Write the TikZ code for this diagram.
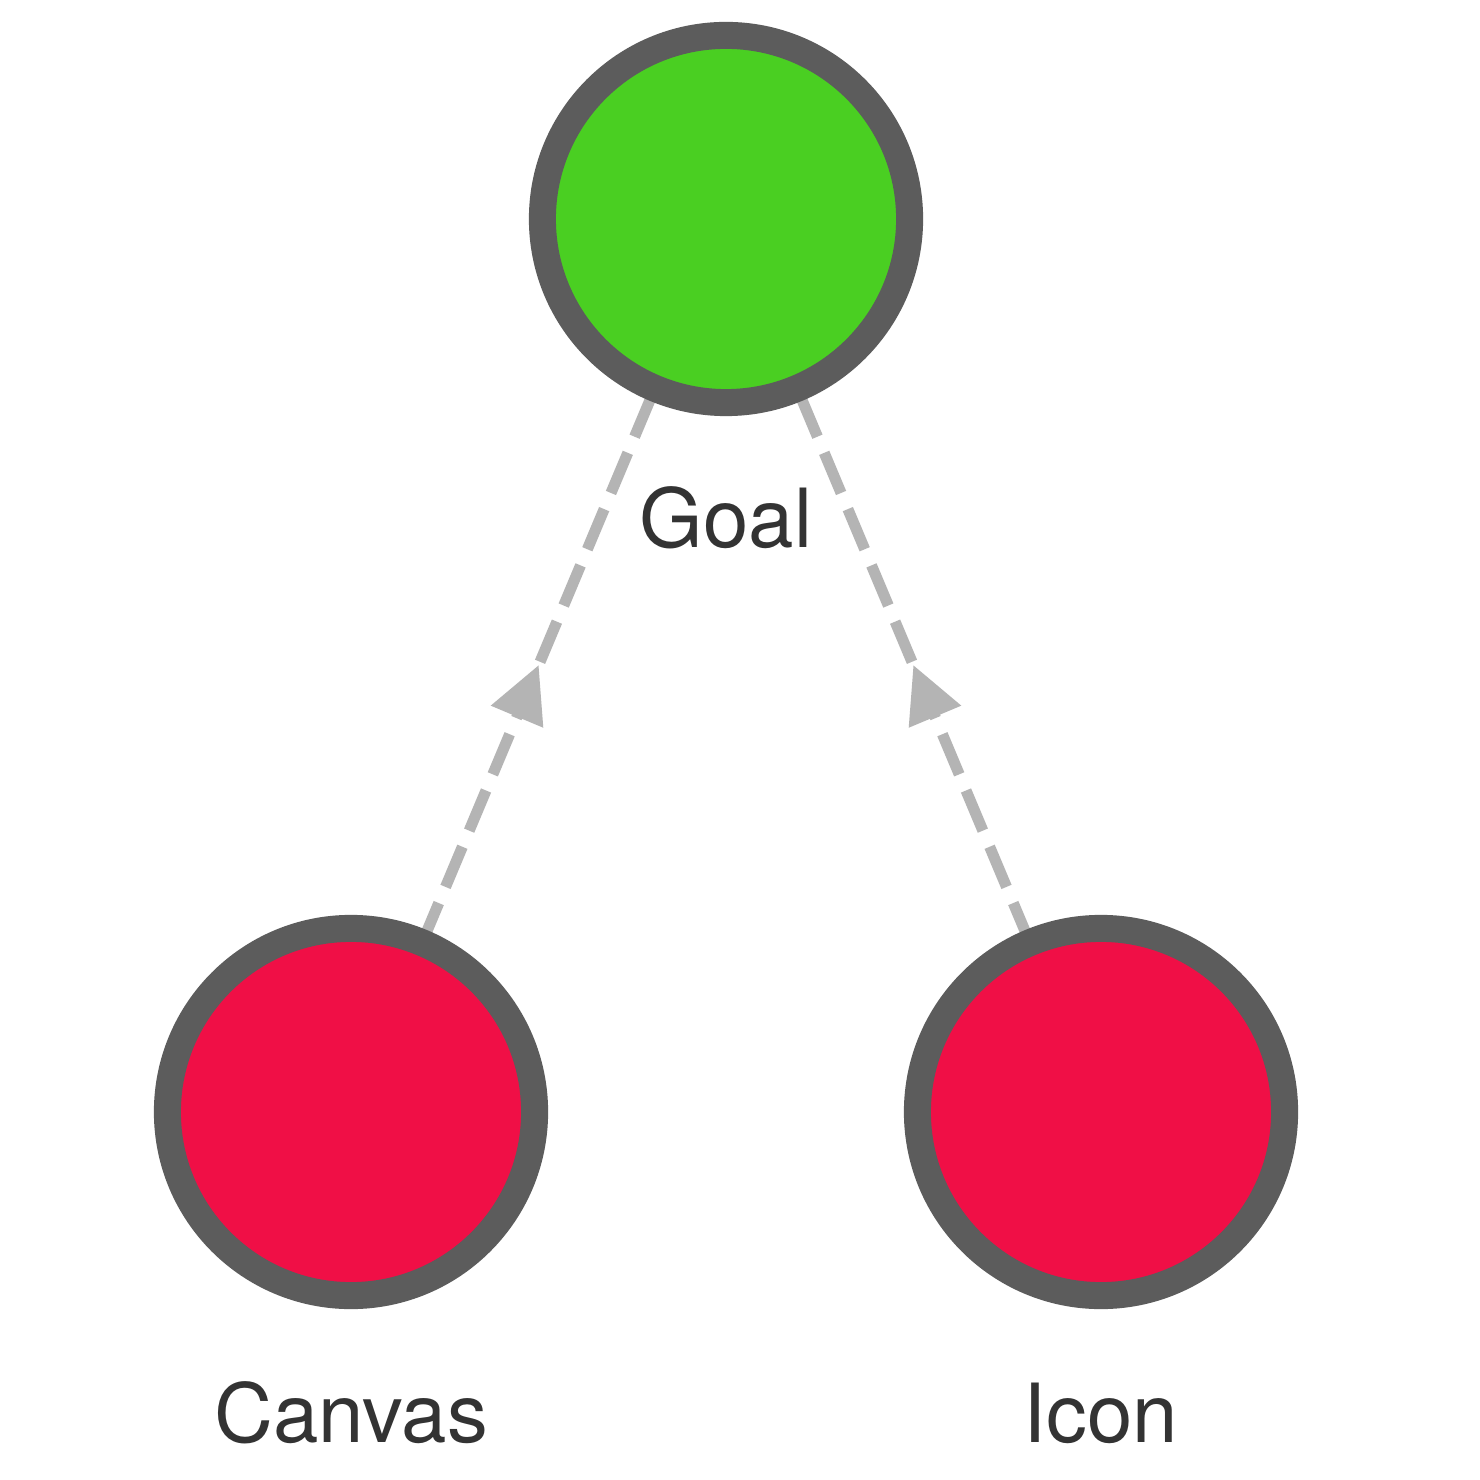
\documentclass[tikz,border=0pt]{standalone}
\usepackage{fontspec}
\setmainfont{TeX Gyre Heros}
\usetikzlibrary{calc}
\pgfdeclarelayer{paper}
\pgfdeclarelayer{links}
\pgfsetlayers{paper,links,main}
\definecolor{ringgray}{HTML}{5C5C5C}
\definecolor{goalgreen}{HTML}{4ACF22}
\definecolor{nodered}{HTML}{F00F46}
\definecolor{edgegray}{HTML}{B4B4B4}
\definecolor{labeltext}{HTML}{333333}
\tikzset{
  stateball/.style={circle, draw=ringgray, line width=0.27cm, minimum size=3.67cm, inner sep=0pt},
  statelabel/.style={anchor=base, text=labeltext, font=\fontsize{23.2pt}{26pt}\selectfont, inner sep=0pt},
  linkline/.style={draw=edgegray, line width=0.11cm, dash pattern=on 0.435cm off 0.175cm},
  linkhead/.style={fill=edgegray, draw=none}
}
\begin{document}
\begin{tikzpicture}[x=0.01cm,y=-0.01cm]
\begin{pgfonlayer}{paper}
\fill[white] (0,0) rectangle (1480,1480);
\end{pgfonlayer}
\useasboundingbox (0,0) rectangle (1480,1480);
\node[stateball, fill=goalgreen] (goal) at (726,219) {};
\node[stateball, fill=nodered] (canvas) at (351,1112) {};
\node[stateball, fill=nodered] (icon) at (1101,1112) {};
\node[statelabel] (goallbl) at (726,548) {Goal};
\node[statelabel] (canvaslbl) at (351,1442) {Canvas};
\node[statelabel] (iconlbl) at (1101,1442) {Icon};
\begin{pgfonlayer}{links}
\draw[linkline] (canvas.center) -- (goal.center);
\draw[linkline] (icon.center) -- (goal.center);
\end{pgfonlayer}
\coordinate (m1) at ($(canvas.center)!0.5!(goal.center)$);
\coordinate (b1) at ($(m1)!0.555cm!(canvas.center)$);
\fill[linkhead] (m1) -- ($(b1)!0.285cm!90:(m1)$) -- ($(b1)!0.285cm!-90:(m1)$) -- cycle;
\coordinate (m2) at ($(icon.center)!0.5!(goal.center)$);
\coordinate (b2) at ($(m2)!0.555cm!(icon.center)$);
\fill[linkhead] (m2) -- ($(b2)!0.285cm!90:(m2)$) -- ($(b2)!0.285cm!-90:(m2)$) -- cycle;
\end{tikzpicture}
\end{document}
